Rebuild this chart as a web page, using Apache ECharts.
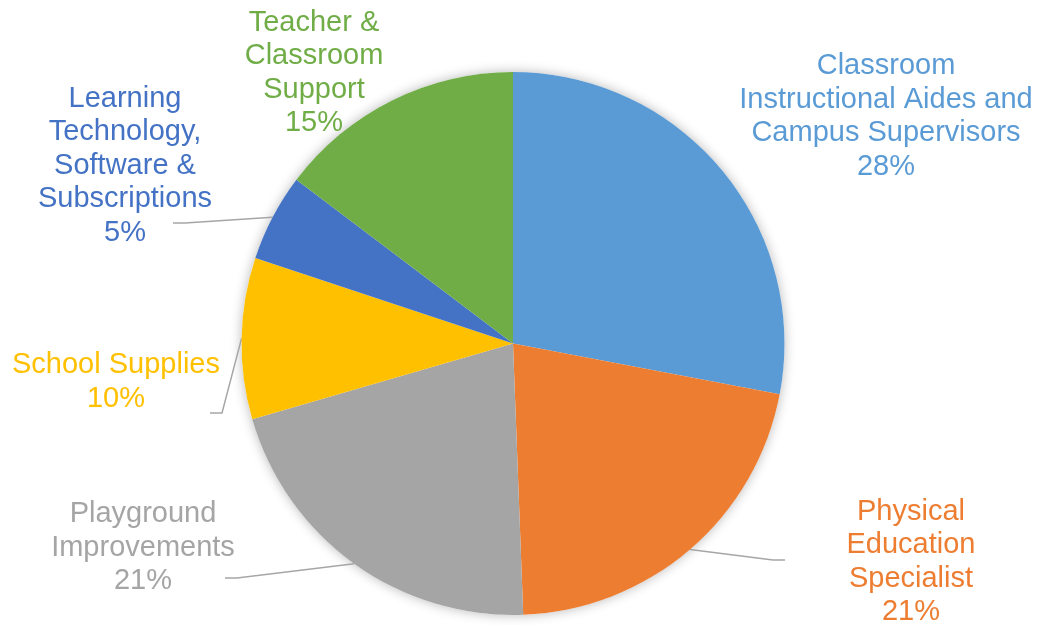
<!DOCTYPE html>
<html>
<head>
<meta charset="utf-8">
<script src="https://cdn.jsdelivr.net/npm/echarts@6/dist/echarts.min.js"></script>
<style>
html, body { margin: 0; padding: 0; background: #fff; }
#budgetPie { width: 1042px; height: 625px; }
</style>
</head>
<body>
<div id="budgetPie"></div>
<script>
// slices, clockwise from 12 o'clock
var categories = [
    'Classroom\nInstructional Aides and\nCampus Supervisors',
    'Physical\nEducation\nSpecialist',
    'Playground\nImprovements',
    'School Supplies',
    'Learning\nTechnology,\nSoftware &\nSubscriptions',
    'Teacher &\nClassroom\nSupport'
];
var shares = [28, 21.4, 21.1, 9.6, 5.2, 14.7];

var colors = ['#5B9BD5', '#ED7D31', '#A5A5A5', '#FFC000', '#4472C4', '#70AD47'];
// label block centres
var labelPos = [[886, 116.5], [911, 562], [143, 547.5], [116, 382], [125, 165.5], [314, 73]];
// where the leader line meets the label (null = no leader)
var lineEnd = [null, [785, 560], [225, 578], [210, 413], [173, 223], null];

var budgetPie = echarts.init(document.getElementById('budgetPie'));

var option = {
    animation: false,
    color: colors,
    series: [
        {
            // soft halo behind the pie
            type: 'pie',
            silent: true,
            z: 1,
            center: [513, 343.5],
            radius: 271.5,
            label: { show: false },
            labelLine: { show: false },
            itemStyle: {
                color: '#fff',
                shadowBlur: 12,
                shadowColor: 'rgba(0,0,0,0.28)'
            },
            data: [1]
        },
        {
            type: 'pie',
            z: 2,
            center: [513, 343.5],
            radius: 271.5,
            startAngle: 90,
            clockwise: true,
            percentPrecision: 0,
            avoidLabelOverlap: false,
            itemStyle: { borderWidth: 0 },
            label: {
                show: true,
                position: 'outside',
                formatter: '{b}\n{d}%',
                color: 'inherit',
                fontFamily: 'Liberation Sans, Arial, sans-serif',
                fontSize: 29,
                lineHeight: 33.5
            },
            labelLine: {
                show: true,
                length: 10,
                length2: 10,
                lineStyle: { color: '#A6A6A6', width: 1.5 }
            },
            labelLayout: function (params) {
                var i = params.dataIndex;
                var p = labelPos[i];
                var out = { x: p[0], y: p[1], align: 'center', verticalAlign: 'middle' };
                var end = lineEnd[i];
                if (end && params.labelLinePoints) {
                    var start = params.labelLinePoints[0];
                    var dir = start[0] > end[0] ? 1 : -1;
                    out.labelLinePoints = [start, [end[0] + dir * 12, end[1]], end];
                }
                return out;
            },
            emphasis: { disabled: true },
            data: categories.map(function (name, i) {
                return {
                    name: name,
                    value: shares[i],
                    labelLine: { show: lineEnd[i] !== null }
                };
            })
        }
    ]
};
budgetPie.setOption(option);
</script>
</body>
</html>
